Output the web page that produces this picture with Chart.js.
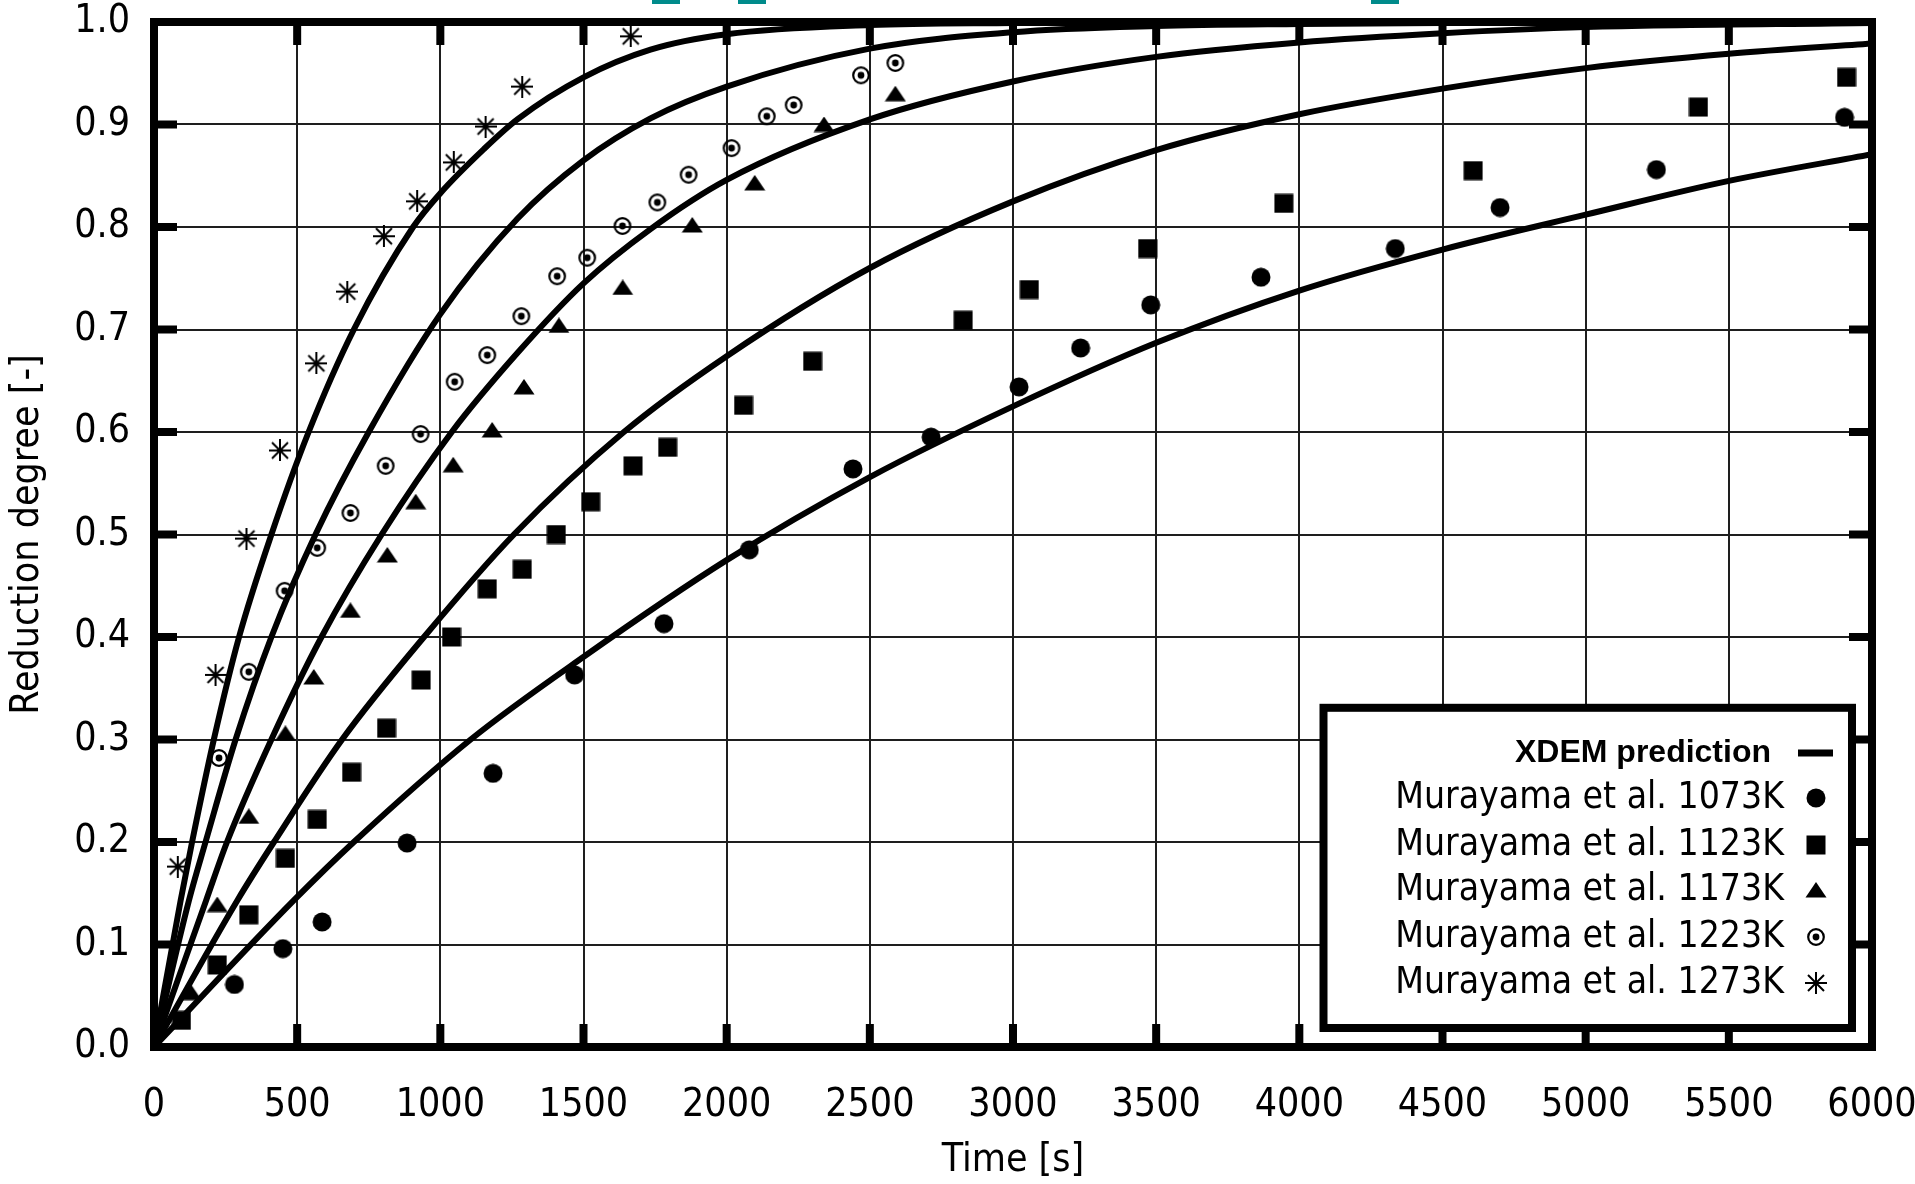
<!DOCTYPE html>
<html><head><meta charset="utf-8">
<script src="https://cdn.jsdelivr.net/npm/chart.js@4.4.1/dist/chart.umd.min.js"></script>
<style>html,body{margin:0;padding:0;background:#fff;}canvas{display:block;}</style>
</head><body>
<canvas id="c" width="1915" height="1184"></canvas>
<script>
// ---------- tick labels ----------
const xTickValues = [0,500,1000,1500,2000,2500,3000,3500,4000,4500,5000,5500,6000];
const xTickLabels = ['0','500','1000','1500','2000','2500','3000','3500','4000','4500','5000','5500','6000'];
const yTickValues = [0,0.1,0.2,0.3,0.4,0.5,0.6,0.7,0.8,0.9,1.0];
const yTickLabels = ['0.0','0.1','0.2','0.3','0.4','0.5','0.6','0.7','0.8','0.9','1.0'];

// ---------- XDEM prediction curves ----------
const predT1273 = [0,93,133,209,297,410,540,698,905,1000,1152,1269,1500,1734,2000,2500,3000,3500,4000,5000,6000];
const predV1273 = [0,0.143,0.2,0.3,0.4,0.5,0.6,0.70,0.80,0.833,0.876,0.905,0.946,0.973,0.988,0.997,0.999,1.0,1.0,1.0,1.0];
const predT1223 = [0,122,180,285,410,564,750,1000,1269,1500,1734,2000,2500,3000,3500,4000,5000,6000];
const predV1223 = [0,0.143,0.2,0.3,0.4,0.5,0.6,0.715,0.808,0.865,0.906,0.937,0.974,0.990,0.996,0.998,1.0,1.0];
const predT1173 = [0,182,255,410,585,795,1040,1269,1500,1734,2000,2500,3000,3500,4000,4500,5000,6000];
const predV1173 = [0,0.143,0.2,0.3,0.4,0.5,0.6,0.677,0.745,0.798,0.846,0.905,0.942,0.966,0.980,0.989,0.995,0.999];
const predT1123 = [0,291,419,657,943,1257,1641,2000,2500,3000,3500,4000,4500,5000,5500,6000];
const predV1123 = [0,0.143,0.2,0.3,0.4,0.5,0.6,0.674,0.760,0.825,0.875,0.910,0.935,0.955,0.969,0.979];
const predT1073 = [0,488,698,1106,1502,2000,2500,3000,3500,4000,4500,5000,5500,6000];
const predV1073 = [0,0.143,0.2,0.3,0.381,0.475,0.556,0.625,0.687,0.738,0.778,0.812,0.845,0.871];

// ---------- Murayama et al. measurements ----------
const expT1073 = [281,450,587,884,1184,1469,1781,2079,2441,2714,3021,3236,3481,3866,4335,4701,5247,5904];
const expV1073 = [0.061,0.096,0.122,0.199,0.267,0.363,0.413,0.485,0.564,0.595,0.644,0.682,0.724,0.751,0.779,0.819,0.856,0.907];
const expT1123 = [96,221,331,459,570,690,812,933,1039,1164,1286,1405,1525,1673,1794,2059,2300,2826,3057,3470,3946,4607,5394,5911];
const expV1123 = [0.026,0.080,0.129,0.184,0.222,0.268,0.311,0.358,0.400,0.447,0.466,0.500,0.532,0.567,0.585,0.626,0.669,0.709,0.739,0.779,0.823,0.855,0.917,0.946];
const expT1173 = [130,221,331,459,558,686,815,914,1045,1181,1292,1414,1637,1880,2098,2340,2589];
const expV1173 = [0.053,0.139,0.225,0.306,0.361,0.426,0.480,0.532,0.568,0.602,0.644,0.704,0.741,0.802,0.843,0.900,0.930];
const expT1223 = [227,331,456,570,686,809,931,1050,1164,1283,1408,1513,1636,1758,1867,2017,2140,2234,2469,2589];
const expV1223 = [0.282,0.366,0.445,0.487,0.521,0.567,0.598,0.649,0.675,0.713,0.752,0.770,0.801,0.824,0.851,0.877,0.908,0.919,0.948,0.960];
const expT1273 = [83,215,323,440,567,675,803,919,1047,1158,1286,1665];
const expV1273 = [0.176,0.363,0.496,0.582,0.667,0.737,0.791,0.825,0.863,0.898,0.937,0.986];

const predLabel = 'XDEM prediction';
const expLabels = ['Murayama et al. 1073K','Murayama et al. 1123K','Murayama et al. 1173K','Murayama et al. 1223K','Murayama et al. 1273K'];

// ---------- symbols ----------
function mk(w,h,draw){const c=document.createElement('canvas');c.width=w;c.height=h;const g=c.getContext('2d');g.fillStyle='#000';g.strokeStyle='#000';draw(g);return c;}
const symCircle = mk(20,20,g=>{g.beginPath();g.arc(10,10,9.5,0,Math.PI*2);g.fill();});
const symSquare = mk(20,20,g=>{g.fillRect(0.5,0.5,19,19);});
const symTriangle = mk(22,16,g=>{g.beginPath();g.moveTo(11,0);g.lineTo(21.5,15.5);g.lineTo(0.5,15.5);g.closePath();g.fill();});
const symCircleDot = mk(20,20,g=>{g.lineWidth=2.2;g.beginPath();g.arc(10,10,7.8,0,Math.PI*2);g.stroke();g.beginPath();g.arc(10,10,3.4,0,Math.PI*2);g.fill();});
const symStar = mk(22,22,g=>{g.lineWidth=2;g.beginPath();g.moveTo(11,0);g.lineTo(11,22);g.moveTo(0,11);g.lineTo(22,11);g.moveTo(3,3);g.lineTo(19,19);g.moveTo(19,3);g.lineTo(3,19);g.stroke();});
const expSymbols = [symCircle,symSquare,symTriangle,symCircleDot,symStar];

const pts=(t,v)=>t.map((x,i)=>({x:x,y:v[i]}));
const FONT = "'DejaVu Sans Condensed', 'DejaVu Sans', sans-serif";

function curve(t,v){return {label:predLabel,data:pts(t,v),showLine:true,borderColor:'#000',borderWidth:6,pointRadius:0,pointHoverRadius:0,cubicInterpolationMode:'monotone',fill:false};}
function marks(t,v,i){return {label:expLabels[i],data:pts(t,v),showLine:false,pointStyle:expSymbols[i],pointRadius:10,pointHoverRadius:10,backgroundColor:'#000',borderColor:'#000'};}

const datasets = [
  curve(predT1273,predV1273), curve(predT1223,predV1223), curve(predT1173,predV1173), curve(predT1123,predV1123), curve(predT1073,predV1073),
  marks(expT1073,expV1073,0), marks(expT1123,expV1123,1), marks(expT1173,expV1173,2), marks(expT1223,expV1223,3), marks(expT1273,expV1273,4)
];

const framePlugin = {
  id:'frame',
  afterDatasetsDraw(chart){
    const {ctx, chartArea:a, scales:{x,y}} = chart;
    ctx.save();
    ctx.fillStyle='#000';
    const tw=8, tl=23;
    xTickValues.forEach(v=>{const px=x.getPixelForValue(v);ctx.fillRect(px-tw/2,a.bottom-tl,tw,tl);ctx.fillRect(px-tw/2,a.top,tw,tl);});
    yTickValues.forEach(v=>{const py=y.getPixelForValue(v);ctx.fillRect(a.left,py-tw/2,tl,tw);ctx.fillRect(a.right-tl,py-tw/2,tl,tw);});
    ctx.lineWidth=8;ctx.strokeStyle='#000';
    ctx.strokeRect(a.left,a.top,a.right-a.left,a.bottom-a.top);
    // small teal marks at the top edge of the picture
    ctx.fillStyle='#008b8b';
    ctx.fillRect(652,0,28,4);ctx.fillRect(738,0,28,4);ctx.fillRect(1371,0,28,4);
    // legend
    const bx=1323.5, by=707.8, bw=528.5, bh=320.2;
    ctx.fillStyle='#fff';ctx.fillRect(bx,by,bw,bh);
    ctx.lineWidth=8;ctx.strokeStyle='#000';ctx.strokeRect(bx,by,bw,bh);
    ctx.fillStyle='#000';ctx.textAlign='right';ctx.textBaseline='middle';
    const rows=[753,798,845,890,937,983];
    ctx.font="bold 32px 'Liberation Sans', Arial, sans-serif";
    ctx.fillText(predLabel,1771,rows[0]);
    ctx.fillRect(1798,rows[0]-3.5,35,7);
    ctx.font="37px "+FONT;
    expLabels.forEach((lab,i)=>{
      ctx.fillText(lab,1784,rows[i+1]);
      const s=expSymbols[i];
      ctx.drawImage(s,Math.round(1816-s.width/2),Math.round(rows[i+1]-s.height/2));
    });
    ctx.restore();
  }
};

function noPad(s){s.paddingLeft=0;s.paddingRight=0;s.paddingTop=0;s.paddingBottom=0;}

new Chart(document.getElementById('c'),{
  type:'scatter',
  data:{datasets},
  options:{
    responsive:false, animation:false, devicePixelRatio:1,
    layout:{padding:{left:0,top:22,right:43,bottom:0}},
    plugins:{legend:{display:false},tooltip:{enabled:false}},
    scales:{
      x:{type:'linear',min:0,max:6000,
        afterBuildTicks(s){s.ticks=xTickValues.map(v=>({value:v}));},
        ticks:{callback:(v)=>{const i=xTickValues.indexOf(v);return i>=0?xTickLabels[i]:'';},font:{family:FONT,size:39},color:'#000',padding:35,maxRotation:0,autoSkip:false},
        grid:{color:'#1e1e1e',lineWidth:2,drawTicks:false},
        border:{display:false},
        title:{display:true,text:'Time [s]',font:{family:FONT,size:39},color:'#000',padding:{top:0,bottom:0}},
        afterFit(s){s.height=137;noPad(s);}
      },
      y:{type:'linear',min:0,max:1,
        afterBuildTicks(s){s.ticks=yTickValues.map(v=>({value:v}));},
        ticks:{callback:(v)=>yTickLabels[Math.round(v*10)],font:{family:FONT,size:39},color:'#000',padding:24,autoSkip:false},
        grid:{color:'#1e1e1e',lineWidth:2,drawTicks:false},
        border:{display:false},
        title:{display:true,text:'Reduction degree [-]',font:{family:FONT,size:39},color:'#000',padding:{top:4,bottom:0}},
        afterFit(s){s.width=154;noPad(s);}
      }
    }
  },
  plugins:[framePlugin]
});
</script>
</body></html>
